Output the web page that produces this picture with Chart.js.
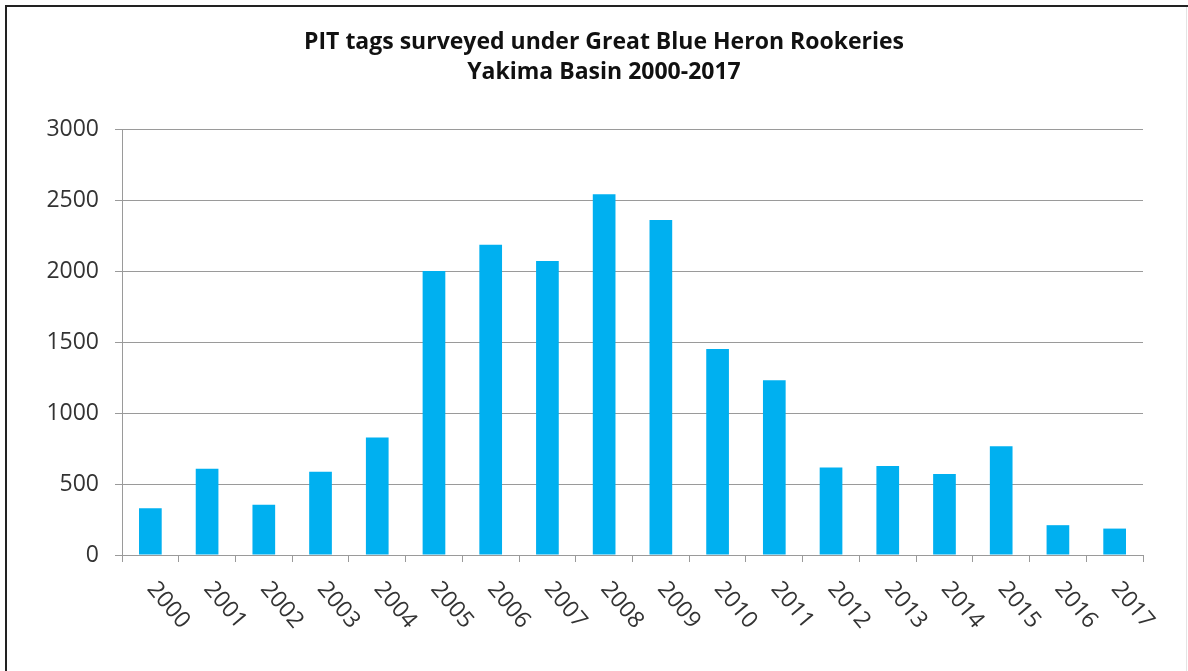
<!DOCTYPE html>
<html>
<head>
<meta charset="utf-8">
<script src="https://cdn.jsdelivr.net/npm/chart.js@4"></script>
<style>
  html, body { margin: 0; padding: 0; background: #fff; }
  #wrap { width: 1188px; height: 671px; }
</style>
</head>
<body>
<div id="wrap"><canvas id="heronChart" width="1188" height="671"></canvas></div>
<script>
  const years = ['2000','2001','2002','2003','2004','2005','2006','2007','2008',
                 '2009','2010','2011','2012','2013','2014','2015','2016','2017'];
  const tagCounts = [330, 608, 354, 587, 827, 2000, 2185, 2071, 2540,
                     2360, 1450, 1231, 617, 627, 571, 766, 210, 186];
  const yTicks = [0, 500, 1000, 1500, 2000, 2500, 3000];
  const titleLines = ['PIT tags surveyed under Great Blue Heron Rookeries', 'Yakima Basin 2000-2017'];

  // page frame, title and the slanted year labels
  const extras = {
    id: 'extras',
    beforeDraw(chart) {
      const c = chart.ctx;
      c.save();
      c.fillStyle = '#fff';
      c.fillRect(0, 0, chart.width, chart.height);
      c.strokeStyle = '#222';
      c.lineWidth = 2;
      c.beginPath();
      c.moveTo(6, chart.height);
      c.lineTo(6, 6);
      c.lineTo(chart.width, 6);
      c.stroke();
      c.strokeStyle = '#e4e4e4';
      c.lineWidth = 1;
      c.beginPath();
      c.moveTo(1186.5, 7);
      c.lineTo(1186.5, chart.height);
      c.stroke();
      c.restore();
    },
    afterDraw(chart) {
      const c = chart.ctx;
      const xs = chart.scales.x;
      c.save();
      c.fillStyle = '#111';
      c.font = 'bold 23px "Open Sans"';
      c.textAlign = 'center';
      c.textBaseline = 'middle';
      c.fillText(titleLines[0], 604, 42);
      c.fillText(titleLines[1], 604, 72);

      c.fillStyle = '#333';
      c.font = '23px "Open Sans"';
      c.textAlign = 'left';
      c.textBaseline = 'middle';
      years.forEach((y, i) => {
        const px = xs.getPixelForValue(i);
        c.save();
        c.translate(px + 1, xs.top + 30);
        c.rotate(50 * Math.PI / 180);
        c.fillText(y, 0, 0);
        c.restore();
      });
      c.restore();
    }
  };

  const ctx = document.getElementById('heronChart').getContext('2d');
  new Chart(ctx, {
    type: 'bar',
    data: {
      labels: years,
      datasets: [{
        label: 'PIT tags',
        data: tagCounts,
        backgroundColor: '#00B0F0',
        borderWidth: 0,
        categoryPercentage: 1,
        barPercentage: 0.4
      }]
    },
    options: {
      responsive: false,
      animation: false,
      layout: { padding: { top: 129, right: 45, left: 0, bottom: 0 } },
      plugins: {
        legend: { display: false },
        title: { display: false },
        tooltip: { enabled: false }
      },
      scales: {
        x: {
          grid: { offset: true, drawOnChartArea: false, drawTicks: true, tickLength: 7, color: '#9a9a9a', lineWidth: 1 },
          border: { color: '#9a9a9a', width: 1 },
          ticks: { display: false },
          afterFit(scale) { scale.height = 116; }
        },
        y: {
          min: 0,
          max: 3000,
          afterBuildTicks(scale) { scale.ticks = yTicks.map(v => ({ value: v })); },
          grid: { color: '#9a9a9a', lineWidth: 1, tickLength: 7 },
          border: { color: '#9a9a9a', width: 1 },
          ticks: {
            color: '#333',
            font: { family: 'Open Sans', size: 23 },
            padding: 16,
            callback: v => String(v)
          },
          afterFit(scale) { scale.width = 122; }
        }
      }
    },
    plugins: [extras]
  });
</script>
</body>
</html>
